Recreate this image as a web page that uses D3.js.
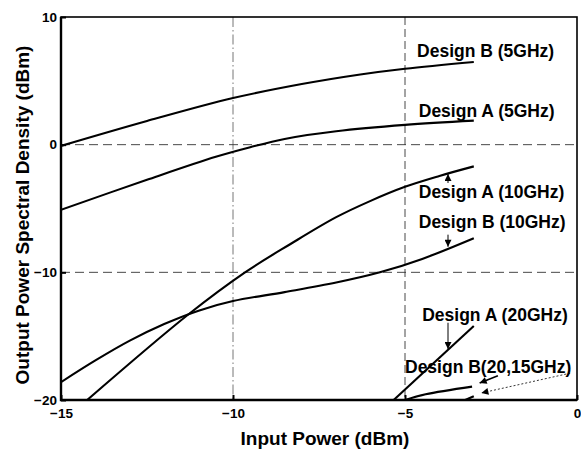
<!DOCTYPE html>
<html>
<head>
<meta charset="utf-8">
<script src="https://cdn.jsdelivr.net/npm/d3@7/dist/d3.min.js"></script>
<style>
  html, body { margin: 0; padding: 0; background: #fff; }
  svg { display: block; font-family: "Liberation Sans", Arial, Helvetica, sans-serif; }
</style>
</head>
<body>
<svg id="chart" width="581" height="450"></svg>
<script>
// Axis ticks
const xTicks = [-15, -10, -5, 0];
const yTicks = [10, 0, -10, -20];

// Output PSD versus input power, one pair of arrays per curve
const b5X  = [-15, -12.5, -10, -8, -6.3, -5, -3];
const b5Y  = [-0.1, 1.85, 3.65, 4.75, 5.5, 5.95, 6.48];
const a5X  = [-15, -12.5, -10.5, -9.5, -8.5, -7, -5, -3];
const a5Y  = [-5.1, -2.75, -0.95, -0.2, 0.45, 1.05, 1.55, 1.88];
const a10X = [-14.24, -11.3, -9.65, -8.34, -7, -6, -5, -4, -3];
const a10Y = [-20, -13.3, -10, -7.8, -5.68, -4.4, -3.3, -2.45, -1.7];
const b10X = [-15, -14, -13, -12, -11, -10, -8.5, -7, -5.73, -4.5, -3];
const b10Y = [-18.6, -16.9, -15.35, -14.05, -13.0, -12.25, -11.55, -10.8, -10.0, -8.95, -7.33];
const a20X = [-5.33, -3.0];
const a20Y = [-20, -14.2];
const b20X = [-5.0, -4.4, -3.05];
const b20Y = [-20, -19.55, -18.95];
const b15X = [-3.25, -3.0];
const b15Y = [-20, -19.7];

// Curve labels (text start in data units)
const labelText = ["Design B (5GHz)", "Design A (5GHz)", "Design A (10GHz)", "Design B (10GHz)", "Design A (20GHz)", "Design B(20,15GHz)"];
const labelX    = [-4.65, -4.6, -4.6, -4.6, -4.5, -5.0];
const labelY    = [6.9, 2.2, -4.15, -6.5, -13.8, -17.85];

// Pointer arrows: tail and tip in data units
const arrowFromX = [-3.75, -3.75, -3.75, -2.3, -0.2];
const arrowFromY = [-3.0, -7.05, -13.95, -18.1, -17.9];
const arrowToX   = [-3.75, -3.75, -3.75, -2.83, -2.78];
const arrowToY   = [-2.3, -8.0, -16.0, -18.67, -19.45];
const arrowDash  = [null, null, null, null, "2,2"];
const arrowWidth = [1, 1, 1, 1.6, 0.8];

const svg = d3.select("#chart");
const plotLeft = 61, plotRight = 577, plotTop = 17, plotBottom = 400;

const x = d3.scaleLinear().domain([-15, 0]).range([plotLeft, plotRight]);
const y = d3.scaleLinear().domain([-20, 10]).range([plotBottom, plotTop]);

const defs = svg.append("defs");
defs.append("clipPath").attr("id", "plot-clip")
  .append("rect").attr("x", plotLeft).attr("y", plotTop)
  .attr("width", plotRight - plotLeft).attr("height", plotBottom - plotTop);
defs.append("marker")
  .attr("id", "head").attr("viewBox", "0 0 10 10")
  .attr("refX", 10).attr("refY", 5)
  .attr("markerUnits", "userSpaceOnUse")
  .attr("markerWidth", 9).attr("markerHeight", 7)
  .attr("orient", "auto")
  .append("path").attr("d", "M0,0 L10,5 L0,10 Z").attr("fill", "#000");

// Grid lines
const grid = svg.append("g").attr("stroke", "#333").attr("stroke-width", 0.9).attr("fill", "none");
grid.append("line")
  .attr("x1", x(-10)).attr("x2", x(-10)).attr("y1", y(10)).attr("y2", y(-20))
  .attr("stroke", "#666").attr("stroke-dasharray", "10,3,1.5,3");
grid.append("line")
  .attr("x1", x(-5)).attr("x2", x(-5)).attr("y1", y(10)).attr("y2", y(-20))
  .attr("stroke-dasharray", "8,4");
[0, -10].forEach(v => {
  grid.append("line")
    .attr("x1", x(-15)).attr("x2", x(0)).attr("y1", y(v)).attr("y2", y(v))
    .attr("stroke-dasharray", "9,5");
});

// Axes
const xAxis = svg.append("g")
  .attr("transform", `translate(0,${plotBottom})`)
  .call(d3.axisBottom(x).tickValues(xTicks).tickSize(-5).tickPadding(8).tickFormat(d3.format("d")));
const yAxis = svg.append("g")
  .attr("transform", `translate(${plotLeft},0)`)
  .call(d3.axisLeft(y).tickValues(yTicks).tickSize(-5).tickPadding(4).tickFormat(d3.format("d")));
[xAxis, yAxis].forEach(g => {
  g.select(".domain").remove();
  g.selectAll(".tick line").attr("stroke", "#000").attr("stroke-width", 2);
  g.selectAll(".tick text")
    .attr("fill", "#000")
    .style("font-size", "13.5px").style("font-weight", "bold")
    .style("font-family", "'Liberation Sans', Arial, sans-serif");
});

// Frame
svg.append("rect")
  .attr("x", plotLeft).attr("y", plotTop)
  .attr("width", plotRight - plotLeft).attr("height", plotBottom - plotTop)
  .attr("fill", "none").attr("stroke", "#000").attr("stroke-width", 1.6);
svg.append("path")
  .attr("d", `M${plotLeft},${plotTop} V${plotBottom} H${plotRight}`)
  .attr("fill", "none").attr("stroke", "#000").attr("stroke-width", 2.4);

// Curves
const line = d3.line().x(d => x(d[0])).y(d => y(d[1])).curve(d3.curveCatmullRom.alpha(0.5));
const series = [[b5X, b5Y], [a5X, a5Y], [a10X, a10Y], [b10X, b10Y], [a20X, a20Y], [b20X, b20Y], [b15X, b15Y]];
const curves = svg.append("g").attr("clip-path", "url(#plot-clip)");
series.forEach(([xs, ys]) => {
  curves.append("path")
    .datum(xs.map((v, i) => [v, ys[i]]))
    .attr("d", line)
    .attr("fill", "none").attr("stroke", "#000").attr("stroke-width", 2.1)
    .attr("stroke-linejoin", "round");
});

// Labels
svg.append("g").selectAll("text")
  .data(labelText)
  .join("text")
  .attr("x", (d, i) => x(labelX[i]))
  .attr("y", (d, i) => y(labelY[i]))
  .style("font-size", "17.5px").style("font-weight", "bold")
  .attr("fill", "#000")
  .text(d => d);

// Arrows
svg.append("g").selectAll("line")
  .data(arrowFromX)
  .join("line")
  .attr("x1", (d, i) => x(arrowFromX[i])).attr("y1", (d, i) => y(arrowFromY[i]))
  .attr("x2", (d, i) => x(arrowToX[i])).attr("y2", (d, i) => y(arrowToY[i]))
  .attr("stroke", "#000")
  .attr("stroke-width", (d, i) => arrowWidth[i])
  .attr("stroke-dasharray", (d, i) => arrowDash[i])
  .attr("marker-end", "url(#head)");

// Axis titles
svg.append("text")
  .attr("x", 325).attr("y", 445)
  .attr("text-anchor", "middle")
  .style("font-size", "19px").style("font-weight", "bold")
  .text("Input Power (dBm)");
svg.append("text")
  .attr("transform", "translate(29,215) rotate(-90)")
  .attr("text-anchor", "middle")
  .style("font-size", "19px").style("font-weight", "bold")
  .text("Output Power Spectral Density (dBm)");
</script>
</body>
</html>
